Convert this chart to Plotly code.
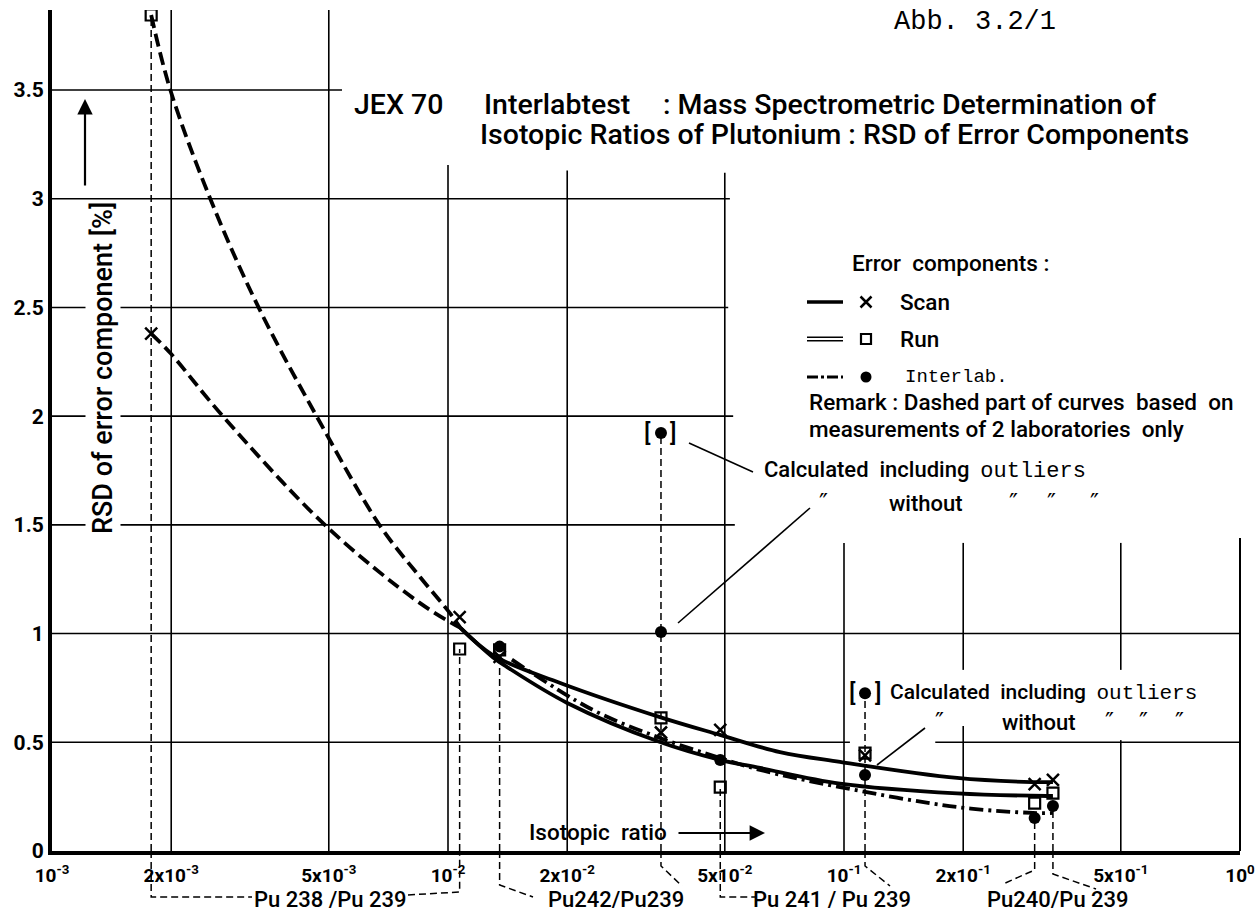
import numpy as np
import plotly.graph_objects as go

# ---------------- data ----------------
sample_ratio = [1.78e-3, 1.07e-2, 1.35e-2, 3.45e-2, 4.87e-2, 1.13e-1, 3.03e-1, 3.37e-1]
scan_val = [2.38, 1.076, 0.893, 0.545, 0.557, 0.44, 0.308, 0.327]
run_val = [3.845, 0.929, 0.925, 0.612, 0.294, 0.45, 0.22, 0.266]
interlab_ratio = [1.35e-2, 3.45e-2, 4.87e-2, 1.13e-1, 3.03e-1, 3.37e-1]
interlab_val = [0.94, 1.007, 0.419, 0.35, 0.152, 0.207]
outlier_ratio = [3.45e-2, 1.13e-1]
outlier_val = [1.923, 0.726]
guide_top = [3.845, 0.929, 0.893, 1.923, 0.294, 0.726, 0.152, 0.207]

scan_dash_x = [1.78e-3, 1.99e-3, 2.70e-3, 4.95e-3, 8.5e-3, 1.075e-2]
scan_dash_y = [2.38, 2.29, 2.0, 1.49, 1.14, 1.026]
scan_x = [1.075e-2, 1.30e-2, 1.92e-2, 3.43e-2, 4.86e-2, 6.89e-2, 9.77e-2, 0.193, 0.2985, 0.337]
scan_y = [1.026, 0.90, 0.773, 0.616, 0.534, 0.455, 0.41, 0.336, 0.317, 0.317]
run_dash_x = [1.78e-3, 1.99e-3, 2.51e-3, 3.31e-3, 4.67e-3, 6.74e-3, 8.5e-3, 1.01e-2, 1.075e-2]
run_dash_y = [3.845, 3.5, 3.0, 2.507, 1.996, 1.495, 1.26, 1.095, 1.026]
run_x = [1.075e-2, 1.30e-2, 1.41e-2, 2.0e-2, 3.43e-2, 4.86e-2, 6.14e-2, 9.77e-2, 0.193, 0.326, 0.337]
run_y = [1.026, 0.89, 0.846, 0.681, 0.501, 0.419, 0.382, 0.31, 0.265, 0.253, 0.253]
inter_x = [1.45e-2, 2.32e-2, 3.43e-2, 4.86e-2, 6.14e-2, 9.77e-2, 0.193, 0.30, 0.337]
inter_y = [0.88, 0.649, 0.52, 0.428, 0.373, 0.294, 0.202, 0.175, 0.175]

x_tick_vals = [1e-3, 2e-3, 5e-3, 1e-2, 2e-2, 5e-2, 1e-1, 2e-1, 5e-1, 1.0]
x_tick_text = ["10<sup>-3</sup>", "2x10<sup>-3</sup>", "5x10<sup>-3</sup>", "10<sup>-2</sup>",
               "2x10<sup>-2</sup>", "5x10<sup>-2</sup>", "10<sup>-1</sup>", "2x10<sup>-1</sup>",
               "5x10<sup>-1</sup>", "10<sup>0</sup>"]
y_tick_vals = [0, 0.5, 1, 1.5, 2, 2.5, 3, 3.5]
y_tick_text = ["0", "0.5", "1", "1.5", "2", "2.5", "3", "3.5"]

pair_labels = ["Pu 238 /Pu 239", "Pu242/Pu239", "Pu 241 / Pu 239", "Pu240/Pu 239"]

# ---------------- layout helpers ----------------
W, H = 1255, 912
L, R, T, B = 52, 15, 10, 61
PW, PH = W - L - R, H - T - B
XMIN, XMAX = 1e-3, 1.0
YMAX = 3.868
FONT = "Roboto, 'Noto Sans', sans-serif"
MONO = "'Liberation Mono', 'DejaVu Sans Mono', monospace"
DITTO = "\u2033"


def px(xpix):
    return (xpix - L) / PW


def py(ypix):
    return (H - B - ypix) / PH


def xd(v):
    return (np.log10(v) - np.log10(XMIN)) / (np.log10(XMAX) - np.log10(XMIN))


fig = go.Figure()

# grid (partial, as drawn in the original)
hgrid = [(3.5, 1e-3, 5.4e-3), (3.0, 1e-3, 5.15e-2), (2.5, 1e-3, 5.1e-2), (2.0, 1e-3, 5.25e-2),
         (1.5, 1e-3, 5.3e-2), (1.0, 1e-3, 1.0), (0.5, 1e-3, 0.1035), (0.5, 0.17, 1.0)]
vgrid = [(2e-3, 0, YMAX), (5e-3, 0, YMAX), (1e-2, 0, 3.155), (2e-2, 0, 3.13), (5e-2, 0, 3.12),
         (0.1, 0, 1.417), (0.2, 0, 0.575), (0.2, 0.833, 1.417), (0.5, 0, 0.51), (0.5, 0.833, 1.417)]
gx, gy = [], []
for v, a, b in hgrid:
    gx += [a, b, None]
    gy += [v, v, None]
for v, a, b in vgrid:
    gx += [v, v, None]
    gy += [a, b, None]
fig.add_trace(go.Scatter(x=gx, y=gy, mode="lines", line=dict(color="black", width=1.6),
                         hoverinfo="skip", showlegend=False))

# sample guide lines
sx, sy = [], []
for r, t in zip(sample_ratio, guide_top):
    sx += [r, r, None]
    sy += [0, t, None]
fig.add_trace(go.Scatter(x=sx, y=sy, mode="lines",
                         line=dict(color="black", width=1.5, dash="7px,4px"),
                         hoverinfo="skip", showlegend=False))

# curves
dash_long = "13px,6px"
fig.add_trace(go.Scatter(x=scan_dash_x, y=scan_dash_y, mode="lines", line_shape="spline",
                         line=dict(color="black", width=3.8, dash=dash_long), showlegend=False))
fig.add_trace(go.Scatter(x=run_dash_x, y=run_dash_y, mode="lines", line_shape="spline",
                         line=dict(color="black", width=3.8, dash=dash_long), showlegend=False))
fig.add_trace(go.Scatter(x=scan_x, y=scan_y, mode="lines", line_shape="spline",
                         line=dict(color="black", width=3.8), showlegend=False))
fig.add_trace(go.Scatter(x=run_x, y=run_y, mode="lines", line_shape="spline",
                         line=dict(color="black", width=3.8), showlegend=False))
fig.add_trace(go.Scatter(x=inter_x, y=inter_y, mode="lines", line_shape="spline",
                         line=dict(color="black", width=3.8, dash="14px,5px,3px,5px"), showlegend=False))

# markers
fig.add_trace(go.Scatter(x=sample_ratio, y=scan_val, mode="markers",
                         marker=dict(symbol="x-thin", size=12, line=dict(color="black", width=2.5)),
                         showlegend=False))
fig.add_trace(go.Scatter(x=sample_ratio, y=run_val, mode="markers",
                         marker=dict(symbol="square-open", size=11, color="black", line=dict(width=2.2)),
                         showlegend=False))
fig.add_trace(go.Scatter(x=interlab_ratio, y=interlab_val, mode="markers",
                         marker=dict(symbol="circle", size=12, color="black"), showlegend=False))
fig.add_trace(go.Scatter(x=outlier_ratio, y=outlier_val, mode="markers",
                         marker=dict(symbol="circle", size=12, color="black"), showlegend=False))

# legend markers on an overlay paper-like axis
leg_y = [py(302), py(339), py(377)]
fig.add_trace(go.Scatter(x=[px(866)], y=[leg_y[0]], xaxis="x2", yaxis="y2", mode="markers",
                         marker=dict(symbol="x-thin", size=11, line=dict(color="black", width=2.5)),
                         showlegend=False))
fig.add_trace(go.Scatter(x=[px(866)], y=[leg_y[1]], xaxis="x2", yaxis="y2", mode="markers",
                         marker=dict(symbol="square-open", size=10, color="black", line=dict(width=2.2)),
                         showlegend=False))
fig.add_trace(go.Scatter(x=[px(866)], y=[leg_y[2]], xaxis="x2", yaxis="y2", mode="markers",
                         marker=dict(symbol="circle", size=11, color="black"), showlegend=False))

shapes = []
# right border (partial)
shapes.append(dict(type="line", xref="paper", yref="y", x0=1, x1=1, y0=0, y1=1.44,
                   line=dict(color="black", width=2)))
# legend line samples
shapes.append(dict(type="line", xref="paper", yref="paper", x0=px(807), x1=px(843),
                   y0=leg_y[0], y1=leg_y[0], line=dict(color="black", width=3.5)))
for off in (-1.8, 1.8):
    shapes.append(dict(type="line", xref="paper", yref="paper", x0=px(807), x1=px(843),
                       y0=py(339 + off), y1=py(339 + off), line=dict(color="black", width=1.6)))
shapes.append(dict(type="line", xref="paper", yref="paper", x0=px(807), x1=px(843),
                   y0=leg_y[2], y1=leg_y[2], line=dict(color="black", width=3, dash="11px,3px,3px,3px")))

# brackets below the axis
s = sample_ratio
brackets = [
    [(xd(s[0]), 851), (xd(s[0]), 897), (px(252), 897)],
    [(px(408), 895), (xd(s[1]), 892), (xd(s[1]), 851)],
    [(xd(s[2]), 851), (xd(s[2]), 885), (px(533), 897)],
    [(xd(s[3]), 851), (xd(s[3]), 866), (px(682), 886)],
    [(xd(s[4]), 851), (xd(s[4]), 897), (px(755), 897)],
    [(xd(s[5]), 851), (xd(s[5]), 866), (px(890), 886)],
    [(xd(s[6]), 851), (xd(s[6]), 870), (px(1003), 884)],
    [(xd(s[7]), 851), (xd(s[7]), 874), (px(1096), 889)],
]
for poly in brackets:
    path = "M " + " L ".join(f"{x:.5f},{py(yy):.5f}" for x, yy in poly)
    shapes.append(dict(type="path", xref="paper", yref="paper", path=path,
                       line=dict(color="black", width=1.5, dash="7px,4px")))

# leader lines (drawn as shapes)
shapes += [
    dict(type="line", xref="paper", yref="paper", x0=px(689), y0=py(443), x1=px(753), y1=py(472),
         line=dict(color="black", width=1.6)),
    dict(type="line", xref="paper", yref="paper", x0=px(678), y0=py(623), x1=px(810), y1=py(508),
         line=dict(color="black", width=1.6)),
    dict(type="line", xref="paper", yref="paper", x0=px(877), y0=py(765), x1=px(925), y1=py(728),
         line=dict(color="black", width=1.6)),
]

ann = []


def text(t, xpix, ypix, size=20, anchor="left", family=FONT, weight=500, **kw):
    ann.append(dict(text=t, x=px(xpix), y=py(ypix), xref="paper", yref="paper",
                    xanchor=anchor, yanchor="middle", showarrow=False,
                    font=dict(family=family, size=size, color="black", weight=weight), **kw))


# title
text("JEX 70", 352, 105, size=28.5)
text("Interlabtest", 482, 105, size=28.5)
text(": Mass Spectrometric Determination of", 661, 105, size=28.5)
text("Isotopic Ratios of Plutonium : RSD of Error Components", 478, 134, size=28.5)
text("Abb. 3.2/1", 892, 22, size=27, family=MONO, weight=400)

# y title and arrow
ann.append(dict(text="RSD of error component [%]", x=px(85), y=py(368), xref="paper", yref="paper",
                textangle=-90, showarrow=False, bgcolor="white",
                font=dict(family=FONT, size=27, color="black", weight=500)))
ann.append(dict(text="", x=px(85), y=py(99), xref="paper", yref="paper", showarrow=True,
                ax=0, ay=88, arrowhead=2, arrowsize=1.4, arrowwidth=2.2, arrowcolor="black"))

# x title and arrow
text("Isotopic  ratio", 527, 832, size=22.5)
ann.append(dict(text="", x=px(765), y=py(833), xref="paper", yref="paper", showarrow=True,
                ax=-88, ay=0, arrowhead=2, arrowsize=1.4, arrowwidth=2.2, arrowcolor="black"))

# legend texts
text("Error  components :", 850, 263, size=22.5)
text("Scan", 898, 302, size=22.5)
text("Run", 898, 339, size=22.5)
text("Interlab.", 903, 377, size=19, family=MONO, weight=400)
text("Remark : Dashed part of curves  based  on", 807, 402, size=22.5)
text("measurements of 2 laboratories  only", 807, 429, size=22.5)

# outlier notes
out_span = '<span style="font-family:Liberation Mono">outliers</span>'
text("Calculated  including  " + out_span, 762, 470, size=22)
text(DITTO, 817, 503, size=24, family="DejaVu Sans")
text("without", 887, 503, size=22)
for q in (1007, 1045, 1088):
    text(DITTO, q, 503, size=24, family="DejaVu Sans")
text("Calculated  including  " + out_span, 888, 692, size=21)
text(DITTO, 933, 722, size=24, family="DejaVu Sans")
text("without", 1000, 722, size=22)
for q in (1103, 1137, 1173):
    text(DITTO, q, 722, size=24, family="DejaVu Sans")

# brackets around outlier points
for r, v in zip(outlier_ratio, outlier_val):
    for ch, sh in (("[", -13), ("]", 13)):
        ann.append(dict(text=ch, x=np.log10(r), y=v, xref="x", yref="y", xshift=sh, showarrow=False,
                        font=dict(family=FONT, size=24, color="black", weight=500)))

# pair labels
for lab, cx in zip(pair_labels, (330, 616, 832, 1058)):
    text(lab, cx, 899, size=22, anchor="center")

fig.update_layout(
    width=W, height=H, margin=dict(l=L, r=R, t=T, b=B, autoexpand=False),
    paper_bgcolor="white", plot_bgcolor="white", showlegend=False,
    xaxis=dict(type="log", range=[np.log10(XMIN), np.log10(XMAX)], showgrid=False, zeroline=False,
               showline=True, linecolor="black", linewidth=4, ticks="",
               tickvals=x_tick_vals, ticktext=x_tick_text, ticklabelstandoff=4,
               ticklabeloverflow="allow", automargin=False,
               tickfont=dict(family=FONT, size=19, color="black", weight="bold")),
    yaxis=dict(range=[0, YMAX], showgrid=False, zeroline=False, showline=True, linecolor="black",
               linewidth=4, ticks="", tickvals=y_tick_vals, ticktext=y_tick_text, automargin=False,
               tickfont=dict(family=FONT, size=21, color="black", weight="bold")),
    xaxis2=dict(overlaying="x", range=[0, 1], visible=False, anchor="y2"),
    yaxis2=dict(overlaying="y", range=[0, 1], visible=False, anchor="x2"),
    shapes=shapes, annotations=ann,
)

fig.write_html("out.html")
